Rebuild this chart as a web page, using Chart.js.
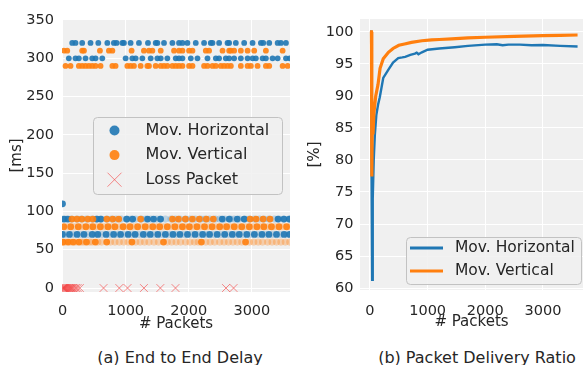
<!DOCTYPE html>
<html>
<head>
<meta charset="utf-8">
<script src="https://cdn.jsdelivr.net/npm/chart.js@4.4.0/dist/chart.umd.min.js"></script>
<style>
  body { margin: 0; background: #fff; width: 585px; height: 365px; overflow: hidden; position: relative; font-family: "DejaVu Sans"; }
  canvas { position: absolute; top: 0; }
  #delayChart { left: 0; }
  #pdrChart { left: 300px; }
  .caption { position: absolute; top: 349.5px; font-size: 16px; line-height: 16px; color: #262626; transform: translateX(-50%); white-space: nowrap; }
</style>
</head>
<body>
<canvas id="delayChart" width="300" height="340"></canvas>
<canvas id="pdrChart" width="285" height="340"></canvas>
<div class="caption" style="left:180px">(a) End to End Delay</div>
<div class="caption" style="left:477px">(b) Packet Delivery Ratio</div>
<script>
// ---- (a) delay per packet, grouped by delay level [ms] ----
const seriesNames = ['Mov. Horizontal', 'Mov. Vertical', 'Loss Packet'];

// horizontal movement
const hz320 = [154, 206, 312, 444, 567, 710, 814, 857, 948, 973, 1079, 1211, 1354, 1476, 1503, 1608, 1741, 1846, 1900, 1979, 2111, 2243, 2349, 2376, 2481, 2614, 2640, 2746, 2878, 3011, 3143, 3180, 3275, 3408, 3460, 3540];
const hz300 = [100, 206, 259, 365, 471, 524, 630, 1000, 1106, 1159, 1265, 1397, 1503, 1556, 1661, 1794, 1846, 1900, 2032, 2138, 2297, 2429, 2481, 2587, 2640, 2719, 2825, 2932, 3011, 3063, 3170, 3222, 3328, 3408, 3540, 3600];
const hz110 = [0];
const hz90 = [24, 87, 544, 607, 1017, 1112, 1348, 1443, 1553, 2531, 2642, 2768, 2878, 3414, 3509, 3595];
const hz70 = [0, 110, 230, 340, 470, 560, 690, 810, 920, 1040, 1150, 1280, 1390, 1510, 1630, 1750, 1860, 1980, 2100, 2220, 2330, 2450, 2570, 2690, 2800, 2920, 3040, 3160, 3270, 3390, 3510, 3600];
const hzFaint90 = [0, 60, 140, 230, 300, 380, 470, 540, 610, 700, 780, 850, 930, 1020, 1090, 1160, 1250, 1320, 1400, 1490, 1550, 1630, 1720, 1790, 1860, 1950, 2020, 2100, 2190, 2260, 2330, 2420, 2490, 2570, 2660, 2720, 2800, 2890, 2960, 3040, 3120, 3190, 3270, 3360, 3430, 3500, 3590];
const hzFaint70 = [40, 160, 280, 400, 520, 620, 750, 870, 980, 1100, 1210, 1330, 1450, 1570, 1690, 1800, 1920, 2040, 2160, 2270, 2390, 2510, 2630, 2740, 2860, 2980, 3100, 3210, 3330, 3450, 3560];

// vertical movement
const vt310 = [20, 75, 312, 340, 593, 735, 790, 1095, 1290, 1370, 1424, 1556, 1767, 1846, 1900, 2005, 2059, 2270, 2322, 2535, 2640, 2667, 2719, 2825, 2932, 3037, 3222, 3487];
const vt290 = [48, 127, 259, 312, 365, 418, 471, 524, 603, 790, 841, 1027, 1079, 1132, 1238, 1344, 1370, 1476, 1556, 1608, 1661, 1741, 1794, 1846, 1900, 2005, 2059, 2243, 2297, 2376, 2429, 2508, 2560, 2614, 2667, 2825, 2932, 2984, 3090, 3222, 3275, 3487, 3567];
const vt90 = [150, 229, 308, 402, 481, 702, 796, 891, 1238, 1742, 1837, 1947, 2058, 2168, 2279, 2389, 2973, 3067, 3178, 3288];
const vt80 = [20, 130, 250, 370, 480, 600, 720, 830, 960, 1070, 1190, 1310, 1430, 1540, 1660, 1780, 1900, 2010, 2130, 2250, 2370, 2490, 2600, 2720, 2840, 2960, 3080, 3190, 3310, 3430, 3550];
const vt60 = [10, 90, 170, 260, 380, 520, 700, 1100, 1600, 2200, 2900];
const vtFaint80 = [75, 190, 310, 430, 540, 660, 780, 900, 1010, 1130, 1250, 1370, 1490, 1600, 1720, 1840, 1950, 2070, 2190, 2310, 2430, 2550, 2660, 2780, 2900, 3020, 3140, 3250, 3370, 3490, 3600];
const vtFaint60 = [0, 50, 130, 210, 300, 340, 430, 470, 560, 620, 760, 830, 900, 970, 1040, 1160, 1230, 1300, 1370, 1450, 1520, 1660, 1730, 1800, 1870, 1950, 2020, 2090, 2150, 2270, 2340, 2410, 2490, 2560, 2630, 2700, 2770, 2840, 2960, 3030, 3100, 3170, 3250, 3320, 3390, 3460, 3530, 3600];

// lost packets (drawn at 0 ms)
const lossPackets = [3, 12, 20, 30, 38, 50, 62, 75, 90, 105, 118, 135, 150, 170, 190, 215, 240, 275, 650, 900, 1030, 1290, 1550, 1790, 2590, 2710];

const delayXTicks = [0, 1000, 2000, 3000];
const delayYTicks = [0, 50, 100, 150, 200, 250, 300, 350];

// ---- (b) packet delivery ratio [%] ----
const pdrHzPackets = [0, 20, 28, 38, 48, 65, 85, 110, 140, 170, 230, 320, 400, 490, 560, 610, 700, 780, 810, 840, 900, 1000, 1200, 1470, 1700, 2000, 2200, 2300, 2400, 2600, 2800, 3000, 3300, 3600];
const pdrHz = [100, 100, 77, 61.3, 74, 80, 84, 87, 88.6, 89.8, 92.8, 94.1, 95.2, 95.9, 96.0, 96.1, 96.4, 96.6, 96.75, 96.5, 96.8, 97.2, 97.4, 97.6, 97.8, 98.0, 98.05, 97.9, 98.0, 98.0, 97.9, 97.95, 97.8, 97.7];
const pdrVtPackets = [0, 25, 32, 42, 52, 70, 100, 140, 175, 230, 320, 400, 500, 600, 720, 900, 1070, 1200, 1420, 1700, 2000, 2500, 3000, 3300, 3600];
const pdrVt = [100, 100, 77.4, 88.3, 84, 87.5, 90, 91.8, 94.3, 95.8, 96.8, 97.4, 97.9, 98.1, 98.35, 98.6, 98.75, 98.8, 98.9, 99.05, 99.15, 99.3, 99.4, 99.45, 99.5];

const pdrXTicks = [0, 1000, 2000, 3000];
const pdrYTicks = [60, 65, 70, 75, 80, 85, 90, 95, 100];

const BLUE = 'rgba(31, 119, 180, 0.9)';
const ORANGE = 'rgba(255, 127, 14, 0.9)';
const TEXT = '#262626';

Chart.defaults.font.family = '"DejaVu Sans"';
Chart.defaults.color = TEXT;
Chart.defaults.animation = false;

function row(xs, level) {
  return xs.map(x => ({ x: x, y: level }));
}
function pairs(xs, ys) {
  return xs.map((x, i) => ({ x: x, y: ys[i] }));
}
// lower delay bands are drawn a little fatter than the upper ones
function dotSize(ctx) {
  return ctx.raw && ctx.raw.y < 200 ? 3.4 : 2.9;
}

// grey plot background
const plotBg = {
  id: 'plotBg',
  beforeDraw(chart) {
    const { ctx, chartArea: a } = chart;
    ctx.save();
    ctx.fillStyle = '#f0f0f0';
    ctx.fillRect(a.left, a.top, a.width, a.height);
    ctx.restore();
  }
};

// framed legend placed inside the plot, like matplotlib's
const boxLegend = {
  id: 'boxLegend',
  afterDraw(chart, args, o) {
    const ctx = chart.ctx;
    const x = o.left + 0.5, y = o.top + 0.5, w = o.width, h = o.height, r = 4;
    ctx.save();
    ctx.beginPath();
    ctx.moveTo(x + r, y);
    ctx.arcTo(x + w, y, x + w, y + h, r);
    ctx.arcTo(x + w, y + h, x, y + h, r);
    ctx.arcTo(x, y + h, x, y, r);
    ctx.arcTo(x, y, x + w, y, r);
    ctx.closePath();
    ctx.fillStyle = 'rgba(240, 240, 240, 0.85)';
    ctx.fill();
    ctx.strokeStyle = '#c2c2c2';
    ctx.lineWidth = 1;
    ctx.stroke();

    const items = chart.data.datasets.filter(d => d.label);
    items.forEach((ds, i) => {
      const cy = o.top + o.firstRow + i * o.rowGap;
      const cx = o.left + o.markerX;
      if (ds.type === 'line') {
        ctx.strokeStyle = ds.borderColor;
        ctx.lineWidth = 3;
        ctx.beginPath();
        ctx.moveTo(cx - 16.5, cy);
        ctx.lineTo(cx + 16.5, cy);
        ctx.stroke();
      } else if (ds.pointStyle === 'crossRot') {
        ctx.strokeStyle = ds.borderColor;
        ctx.lineWidth = 1;
        ctx.beginPath();
        ctx.moveTo(cx - 7, cy - 7); ctx.lineTo(cx + 7, cy + 7);
        ctx.moveTo(cx + 7, cy - 7); ctx.lineTo(cx - 7, cy + 7);
        ctx.stroke();
      } else {
        ctx.fillStyle = ds.backgroundColor;
        ctx.beginPath();
        ctx.arc(cx, cy, 5, 0, Math.PI * 2);
        ctx.fill();
      }
      ctx.fillStyle = TEXT;
      ctx.font = o.fontSize + 'px "DejaVu Sans"';
      ctx.textBaseline = 'middle';
      ctx.fillText(ds.label, o.left + o.textX, cy);
    });
    ctx.restore();
  }
};

function axis(min, max, tickValues, title, side, size, tickPad, titlePad) {
  return {
    type: 'linear',
    min: min,
    max: max,
    afterBuildTicks: s => { s.ticks = tickValues.map(v => ({ value: v })); },
    afterFit: s => { if (side === 'x') s.height = size; else s.width = size; },
    grid: { color: '#ffffff', lineWidth: 1, drawTicks: false },
    border: { display: false },
    ticks: { padding: tickPad, font: { size: 14.5 }, color: TEXT, callback: v => String(v) },
    title: { display: true, text: title, font: { size: 15 }, color: TEXT, padding: titlePad }
  };
}

new Chart(document.getElementById('delayChart'), {
  type: 'scatter',
  data: {
    datasets: [
      {
        label: seriesNames[0],
        data: [].concat(row(hz320, 320), row(hz300, 300), row(hz110, 110), row(hz90, 90), row(hz70, 70)),
        backgroundColor: BLUE, borderWidth: 0, pointRadius: dotSize, order: 2
      },
      {
        label: seriesNames[1],
        data: [].concat(row(vt310, 310), row(vt290, 290), row(vt90, 90), row(vt80, 80), row(vt60, 60)),
        backgroundColor: ORANGE, borderWidth: 0, pointRadius: dotSize, order: 1
      },
      {
        label: seriesNames[2],
        data: row(lossPackets, 0),
        pointStyle: 'crossRot', pointRadius: 5.5, borderWidth: 1,
        borderColor: 'rgba(245, 60, 60, 0.6)', backgroundColor: 'rgba(245, 60, 60, 0.6)', order: 0
      },
      {
        data: [].concat(row(hzFaint90, 90), row(hzFaint70, 70)),
        backgroundColor: 'rgba(31, 119, 180, 0.25)', borderWidth: 0, pointRadius: 3.6, order: 4
      },
      {
        data: [].concat(row(vtFaint80, 80), row(vtFaint60, 60)),
        backgroundColor: 'rgba(255, 127, 14, 0.3)', borderWidth: 0, pointRadius: 3.6, order: 3
      }
    ]
  },
  options: {
    responsive: false,
    layout: { padding: { top: 19, right: 10, left: 0, bottom: 0 } },
    plugins: {
      legend: { display: false },
      tooltip: { enabled: false },
      boxLegend: { left: 93, top: 117, width: 189, height: 77, firstRow: 13.5, rowGap: 24.6, markerX: 21.5, textX: 52.5, fontSize: 16 }
    },
    scales: {
      x: axis(-8, 3604, delayXTicks, '# Packets', 'x', 48, 11, { top: 0, bottom: 7 }),
      y: axis(-5.2, 351.3, delayYTicks, '[ms]', 'y', 62, 8, { top: 8.5, bottom: 0 })
    }
  },
  plugins: [plotBg, boxLegend]
});

new Chart(document.getElementById('pdrChart'), {
  type: 'line',
  data: {
    datasets: [
      {
        type: 'line', label: seriesNames[0], data: pairs(pdrHzPackets, pdrHz),
        borderColor: '#1f77b4', borderWidth: 2.4, pointRadius: 0, tension: 0, order: 1
      },
      {
        type: 'line', label: seriesNames[1], data: pairs(pdrVtPackets, pdrVt),
        borderColor: '#ff7f0e', borderWidth: 3.2, pointRadius: 0, tension: 0, order: 0
      }
    ]
  },
  options: {
    responsive: false,
    parsing: false,
    layout: { padding: { top: 19, right: 2, left: 0, bottom: 0 } },
    plugins: {
      legend: { display: false },
      tooltip: { enabled: false },
      boxLegend: { left: 106, top: 237, width: 175, height: 47, firstRow: 11, rowGap: 23, markerX: 20.5, textX: 49, fontSize: 15.5 }
    },
    scales: {
      x: axis(-173, 3694, pdrXTicks, '# Packets', 'x', 50, 13, { top: 0, bottom: 8.5 }),
      y: axis(59.7, 102, pdrYTicks, '[%]', 'y', 60, 6.5, { top: 6.5, bottom: 0 })
    }
  },
  plugins: [plotBg, boxLegend]
});
</script>
</body>
</html>
